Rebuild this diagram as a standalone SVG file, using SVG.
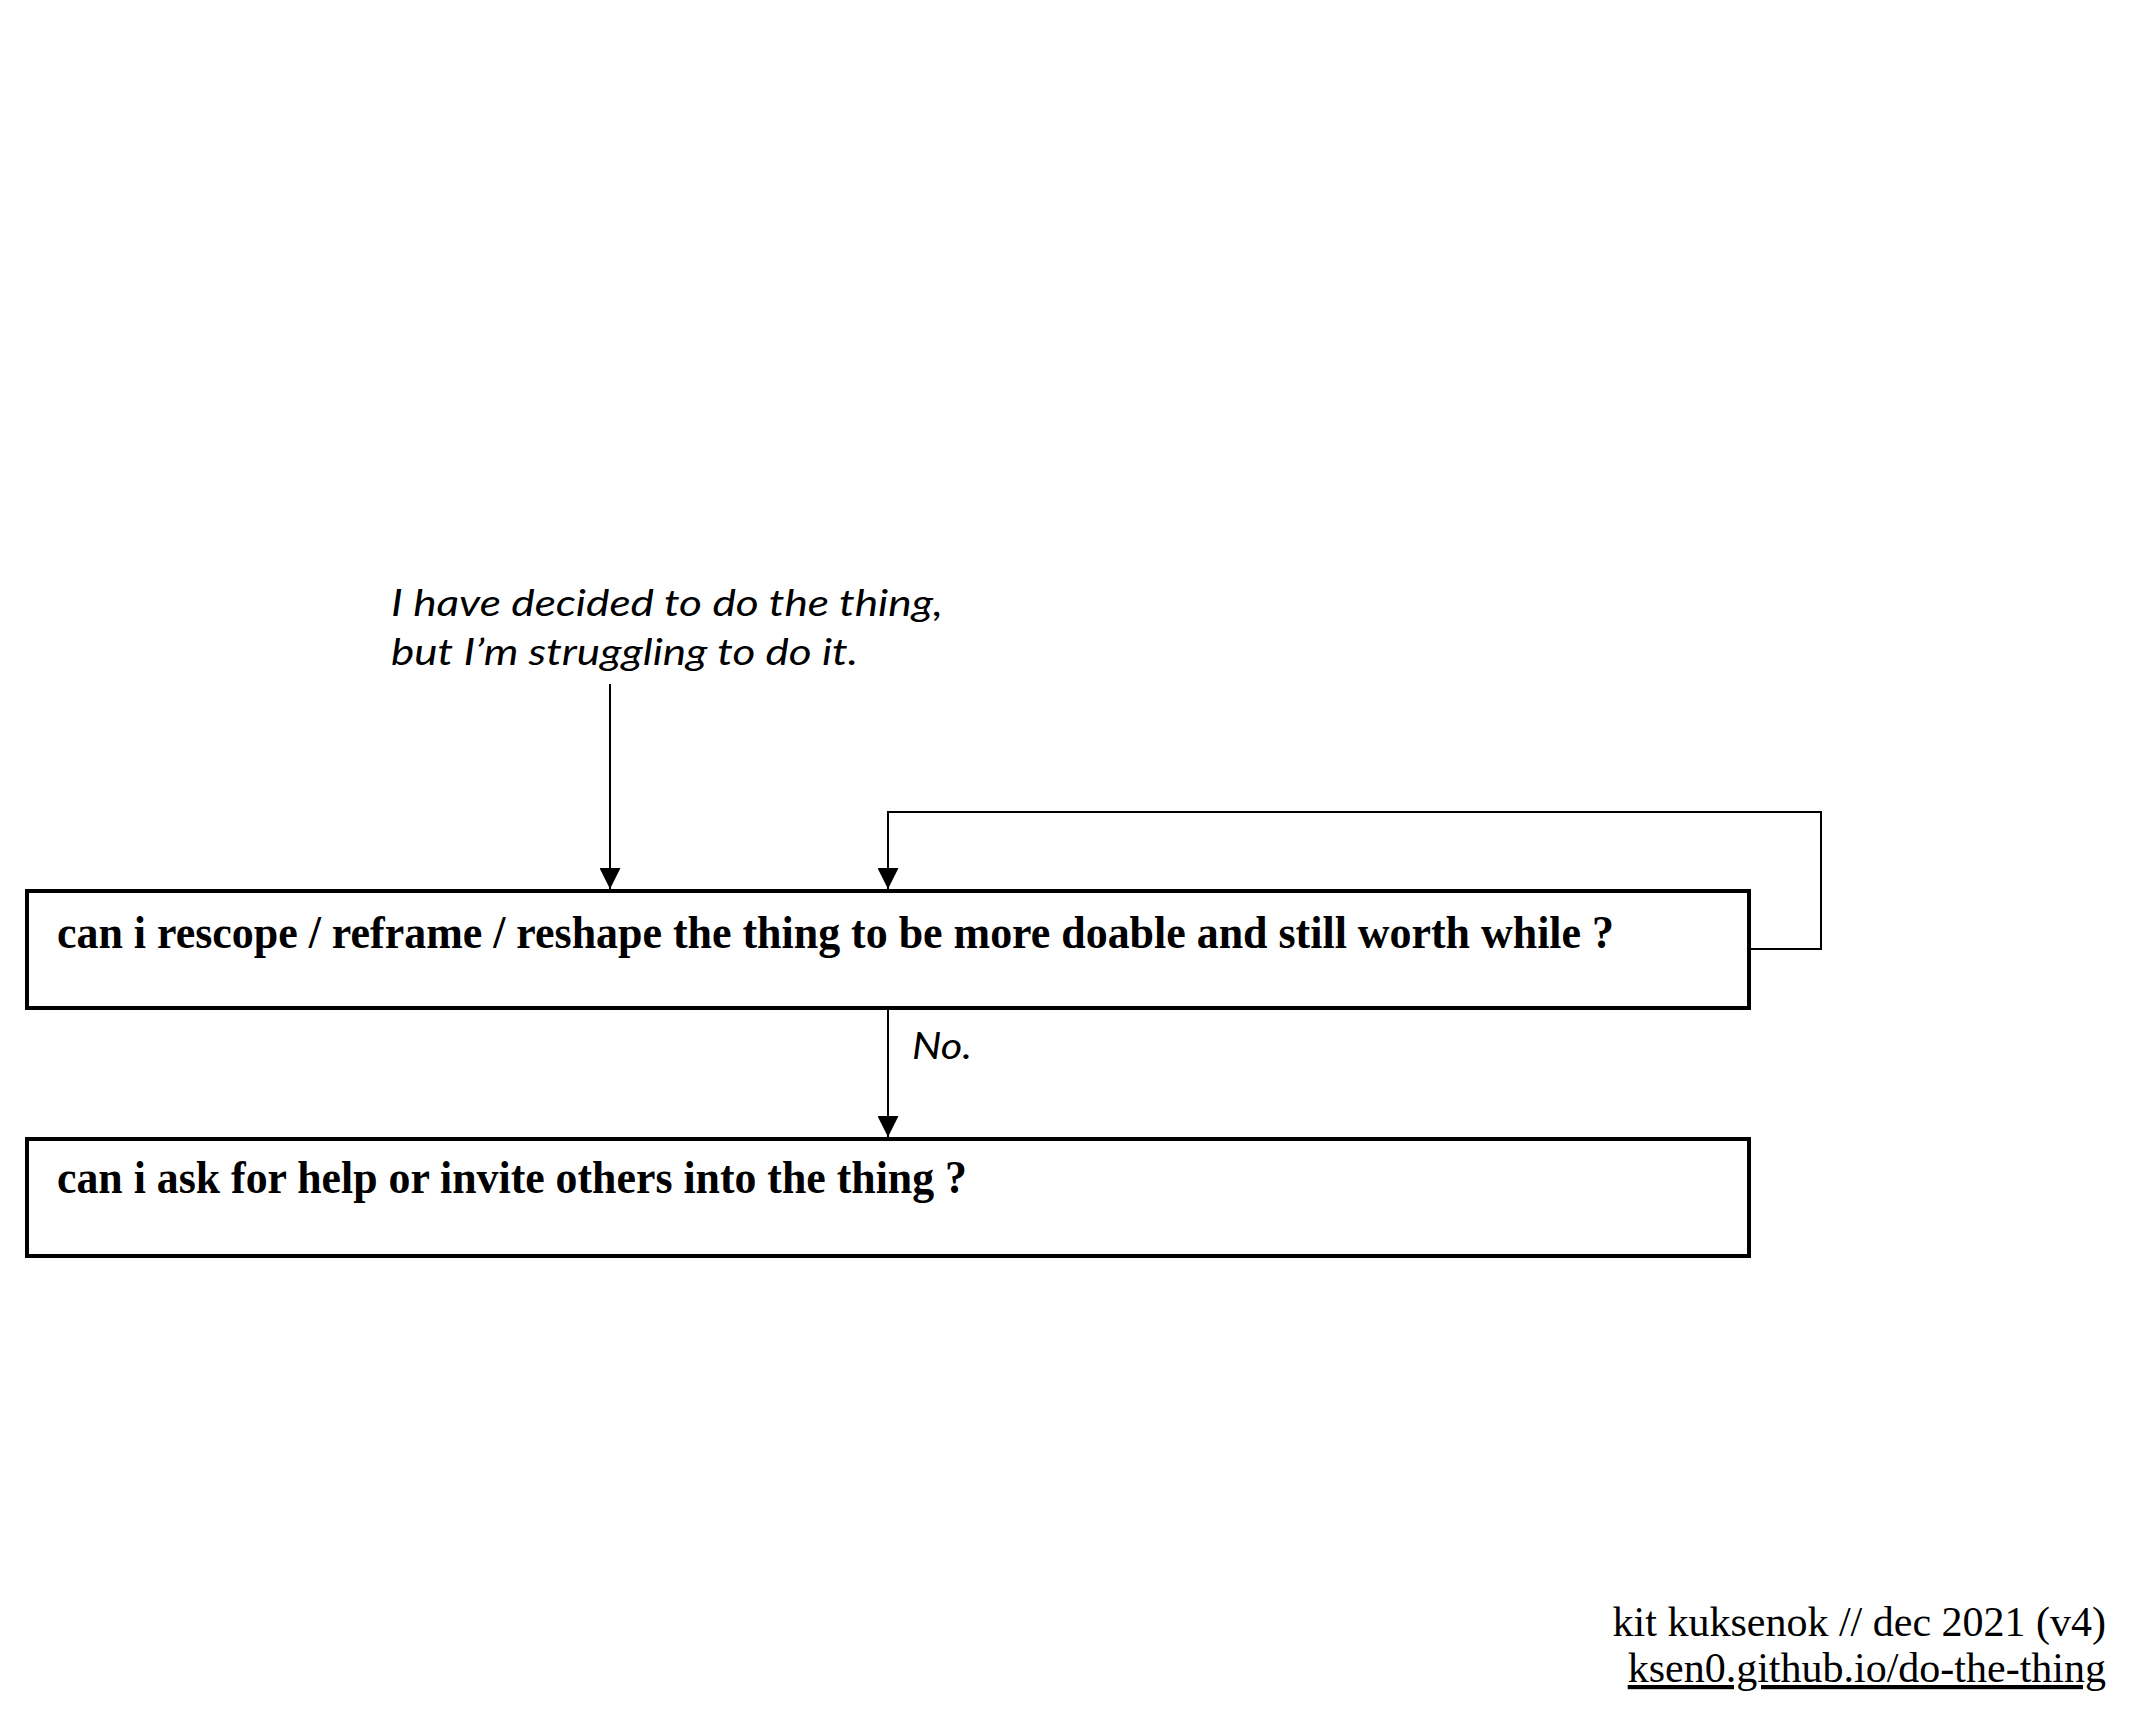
<svg xmlns="http://www.w3.org/2000/svg" width="2136" height="1734" viewBox="0 0 2136 1734">
<style>
.box{fill:#fff;stroke:#000;stroke-width:4}
.q{font-family:"Liberation Serif","Times New Roman",serif;font-weight:bold;font-size:46px;fill:#000}
.note{font-family:Lato,"Open Sans",sans-serif;font-style:italic;font-size:37px;fill:#000}
.edge{fill:none;stroke:#000;stroke-width:2}
.foot{font-family:"Liberation Serif","Times New Roman",serif;font-size:42px;fill:#000}
</style>
<defs>
<marker id="arr" markerUnits="userSpaceOnUse" markerWidth="23" markerHeight="21" refX="21" refY="10.5" orient="auto">
<path d="M0,0 L21,10.5 L0,21 z" fill="#000"/>
</marker>
</defs>
<rect width="2136" height="1734" fill="#fff"/>
<g id="start">
<text class="note" x="391" y="616" textLength="552" lengthAdjust="spacingAndGlyphs">I have decided to do the thing,</text>
<text class="note" x="391" y="665" textLength="467" lengthAdjust="spacingAndGlyphs">but I’m struggling to do it.</text>
</g>
<g id="rescope">
<rect class="box" x="27" y="891" width="1722" height="117"/>
<text class="q" x="57" y="948" textLength="1557" lengthAdjust="spacingAndGlyphs">can i rescope / reframe / reshape the thing to be more doable and still worth while ?</text>
</g>
<g id="askhelp">
<rect class="box" x="27" y="1139" width="1722" height="117"/>
<text class="q" x="57" y="1193" textLength="910" lengthAdjust="spacingAndGlyphs">can i ask for help or invite others into the thing ?</text>
</g>
<g id="connectors">
<path class="edge" d="M610,684 V889" marker-end="url(#arr)"/>
<path class="edge" d="M1749,949 H1821 V812 H888 V889" marker-end="url(#arr)"/>
<path class="edge" d="M888,1010 V1137" marker-end="url(#arr)"/>
<text class="note" x="912" y="1059" font-size="38" textLength="60" lengthAdjust="spacingAndGlyphs">No.</text>
</g>
<g id="footer">
<text class="foot" x="2106" y="1636" text-anchor="end">kit kuksenok // dec 2021 (v4)</text>
<text class="foot" x="2106" y="1682" text-anchor="end" text-decoration="underline">ksen0.github.io/do-the-thing</text>
</g>
</svg>
